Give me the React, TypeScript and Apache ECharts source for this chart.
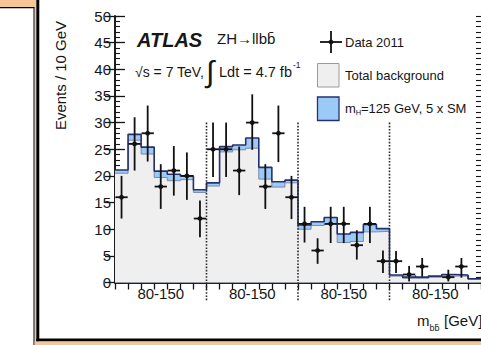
import { useEffect, useRef } from "react";
import * as echarts from "echarts";

// Four m_bb panels, each 80-150 GeV in 10 GeV bins
const panelLabels = ["80-150", "80-150", "80-150", "80-150"];
const binsPerPanel = 7;

// Total background per bin
const background = [
  20.5, 26.7, 24.1, 19.7, 19.1, 19.3, 16.9,
  18.1, 24.5, 24.9, 25.2, 19.4, 17.9, 18.7,
  10.0, 10.7, 10.9, 7.5, 7.7, 9.5, 9.6,
  1.2, 0.8, 0.8, 1.0, 1.2, 1.2, 0.6,
];
// mH = 125 GeV signal scaled by 5 x SM, stacked on the background
const signal = [
  0.6, 1.1, 1.3, 1.2, 1.2, 0.7, 0.5,
  0.6, 1.0, 0.9, 1.9, 2.2, 1.0, 0.5,
  0.8, 0.7, 1.3, 1.6, 1.7, 1.4, 0.5,
  0.2, 0.2, 0.2, 0.2, 0.3, 0.2, 0.1,
];
// Data 2011 with error bar ends
const dataEvents = [
  16, 26, 28, 18, 21, 20, 12,
  25, 25, 21, 30, 18, 28, 16,
  11, 6, 11, 11, 7, 11, 4,
  4, 1.5, 3, null, 1, 3, null,
];
const dataErrLow = [
  12, 21, 22.7, 13.8, 16.3, 15.5, 8.5,
  19.8, 19.8, 16.4, 24.9, 13.8, 22.6, 11.9,
  7.5, 3.5, 7.4, 7.4, 4.3, 7.4, 1.8,
  1.8, 0.2, 1.1, null, 0.2, 0.9, null,
];
const dataErrHigh = [
  20, 31, 33.2, 22.2, 25.6, 24.4, 15.4,
  30, 30, 25.5, 35.3, 22.2, 33.2, 20,
  14.2, 8.3, 14.2, 14.2, 9.8, 14.2, 6,
  5.9, 3.1, 4.6, null, 2.4, 4.6, null,
];
const yTicks = [0, 5, 10, 15, 20, 25, 30, 35, 40, 45, 50];

const FONT = "'Liberation Sans', Arial, Helvetica, sans-serif";
const INK = "#161616";
const NAVY = "#27306e";
const BLUE = "#9ccaf6";
const GREY = "#efefef";
const PEACH = "#f7c596";

export default function App() {
  const ref = useRef<HTMLDivElement>(null);

  useEffect(() => {
    if (!ref.current) return;
    const chart = echarts.init(ref.current, null, { renderer: "svg" });
    const nBins = background.length;
    const total = background.map((b, i) => b + signal[i]);
    const stepData = (vals: number[]) => [
      ...vals.map((v, i) => [i, v]),
      [nBins, vals[nBins - 1]],
    ];
    const binEdges = Array.from({ length: nBins + 1 }, (_, i) => i);
    const panelCenters = panelLabels.map((_, p) => p * binsPerPanel + binsPerPanel / 2);
    const separators = panelLabels.slice(1).map((_, p) => [(p + 1) * binsPerPanel]);
    const points = dataEvents
      .map((v, i) => (v == null ? null : [i + 0.5, v, dataErrLow[i], dataErrHigh[i]]))
      .filter((d) => d != null);

    const xCommon = {
      type: "value",
      min: 0,
      max: nBins,
      interval: 1,
      axisLine: { show: true, lineStyle: { color: INK, width: 1.6 } },
      axisTick: { show: true, inside: true, length: 7, customValues: binEdges, lineStyle: { color: INK, width: 1.3 } },
      splitLine: { show: false },
    };
    const yMajor = {
      type: "value",
      min: 0,
      max: 50,
      interval: 5,
      axisLine: { show: true, lineStyle: { color: INK, width: 1.6 } },
      axisTick: { show: true, inside: true, length: 10, lineStyle: { color: INK, width: 1.3 } },
      splitLine: { show: false },
    };
    // 1-event sub-divisions, drawn as short inner ticks
    const yMinor = {
      type: "value",
      min: 0,
      max: 50,
      interval: 1,
      offset: 0,
      axisLine: { show: false },
      axisTick: { show: true, inside: true, length: 5, lineStyle: { color: INK, width: 1.1 } },
      axisLabel: { show: false },
      splitLine: { show: false },
    };

    const txt = (x: number, y: number, text: string, size: number, extra: any = {}) => ({
      type: "text",
      x,
      y,
      silent: true,
      style: {
        text,
        fill: INK,
        fontStyle: extra.italic ? "italic" : "normal",
        fontWeight: extra.weight || "normal",
        fontSize: size,
        fontFamily: FONT,
        textAlign: extra.align || "left",
        textVerticalAlign: "middle",
        verticalAlign: "middle",
      },
      rotation: extra.rotation || 0,
      z: 50,
    });

    chart.setOption({
      animation: false,
      backgroundColor: "#ffffff",
      textStyle: { fontFamily: FONT },
      grid: { left: 115, right: -3, top: 16, bottom: 62.5, containLabel: false },
      xAxis: [
        {
          ...xCommon,
          position: "bottom",
          axisLabel: {
            show: true,
            customValues: panelCenters,
            formatter: (v: number) => panelLabels[Math.floor(v / binsPerPanel)] || "",
            fontSize: 15,
            color: INK,
            margin: 3,
          },
        },
        { ...xCommon, position: "top", axisLabel: { show: false } },
      ],
      yAxis: [
        {
          ...yMajor,
          position: "left",
          axisLabel: {
            show: true,
            customValues: yTicks,
            fontSize: 15,
            color: INK,
            margin: 4,
            padding: [4, 0, 0, 0],
          },
        },
        { ...yMajor, position: "right", axisLabel: { show: false } },
        { ...yMinor, position: "left" },
        { ...yMinor, position: "right" },
      ],
      series: [
        {
          type: "line",
          step: "end",
          data: stepData(total),
          symbol: "none",
          lineStyle: { width: 0, color: BLUE },
          areaStyle: { color: BLUE, opacity: 1 },
          z: 1,
        },
        {
          type: "line",
          step: "end",
          data: stepData(background),
          symbol: "none",
          lineStyle: { width: 1, color: "#7d88a8" },
          areaStyle: { color: GREY, opacity: 1 },
          z: 2,
        },
        {
          type: "line",
          step: "end",
          data: stepData(total),
          symbol: "none",
          lineStyle: { width: 1.6, color: NAVY },
          z: 3,
        },
        {
          type: "custom",
          clip: false,
          data: separators,
          encode: { x: 0 },
          renderItem: (_p: any, api: any) => {
            const x = api.value(0);
            const a = api.coord([x, 30]);
            const b = api.coord([x, -3.5]);
            return {
              type: "line",
              shape: { x1: a[0], y1: a[1], x2: b[0], y2: b[1] },
              style: { stroke: "#2a2a2a", lineWidth: 1.6, lineDash: [1.6, 1.6] },
            };
          },
          z: 4,
        },
        {
          type: "custom",
          clip: false,
          data: points,
          encode: { x: 0, y: 1 },
          renderItem: (_p: any, api: any) => {
            const x = api.value(0);
            const v = api.value(1);
            const lo = api.coord([x, api.value(2)]);
            const hi = api.coord([x, api.value(3)]);
            const l = api.coord([x - 0.47, v]);
            const r = api.coord([x + 0.47, v]);
            const c = api.coord([x, v]);
            const st = { stroke: "#111", lineWidth: 1.8 };
            return {
              type: "group",
              children: [
                { type: "line", shape: { x1: lo[0], y1: lo[1], x2: hi[0], y2: hi[1] }, style: st },
                { type: "line", shape: { x1: l[0], y1: l[1], x2: r[0], y2: r[1] }, style: st },
                { type: "circle", shape: { cx: c[0], cy: c[1], r: 2.4 }, style: { fill: "#111" } },
              ],
            };
          },
          z: 10,
        },
      ],
      graphic: [
        // slide frame
        { type: "rect", shape: { x: 0, y: 0, width: 36, height: 7 }, style: { fill: PEACH }, silent: true },
        { type: "rect", shape: { x: 0, y: 7, width: 34.5, height: 1.2 }, style: { fill: "#000" }, silent: true },
        { type: "rect", shape: { x: 33.5, y: 7, width: 1.2, height: 338 }, style: { fill: "#000" }, silent: true },
        { type: "rect", shape: { x: 34.7, y: 0, width: 1.6, height: 345 }, style: { fill: PEACH }, silent: true },
        { type: "rect", shape: { x: 36.3, y: 0, width: 3, height: 341.5 }, style: { fill: "#000" }, silent: true },
        { type: "rect", shape: { x: 36.3, y: 338.5, width: 445, height: 3 }, style: { fill: "#000" }, silent: true },
        { type: "rect", shape: { x: 34.7, y: 341.5, width: 447, height: 3.5 }, style: { fill: PEACH }, silent: true },

        // axis titles
        txt(60.5, 75.5, "Events / 10 GeV", 15, { align: "center", rotation: Math.PI / 2 }),
        txt(417, 320, "m", 15),
        txt(429.5, 328, "bb\u0304", 9),
        txt(444, 320, "[GeV]", 15),

        // labels
        txt(137, 39.5, "ATLAS", 20, { weight: "bold", italic: true }),
        txt(217, 38.5, "ZH\u2192llbb\u0304", 15),
        txt(135, 71.5, "\u221As = 7 TeV,", 14),
        txt(206, 71, "\u222B", 30),
        txt(219, 71.5, "Ldt = 4.7 fb", 14.5),
        txt(293, 65, "-1", 8.5),

        // legend
        { type: "line", shape: { x1: 320, y1: 42, x2: 342, y2: 42 }, style: { stroke: "#111", lineWidth: 1.8 }, silent: true },
        { type: "line", shape: { x1: 331, y1: 31, x2: 331, y2: 53 }, style: { stroke: "#111", lineWidth: 1.8 }, silent: true },
        { type: "circle", shape: { cx: 331, cy: 42, r: 2.4 }, style: { fill: "#111" }, silent: true },
        txt(345, 42, "Data 2011", 13),
        { type: "rect", shape: { x: 317.5, y: 63.5, width: 21.5, height: 23.5 }, style: { fill: GREY, stroke: "#9a9a9a", lineWidth: 1 }, silent: true },
        txt(345, 75, "Total background", 13),
        { type: "rect", shape: { x: 317.5, y: 97, width: 21.5, height: 23.5 }, style: { fill: BLUE, stroke: NAVY, lineWidth: 1.3 }, silent: true },
        txt(345, 108, "m", 13),
        txt(355.8, 112, "H", 7.5),
        txt(361, 108, "=125 GeV, 5 x SM", 13),
      ],
    });

    return () => chart.dispose();
  }, []);

  return (
    <div
      ref={ref}
      style={{ position: "fixed", left: 0, top: 0, width: 481, height: 345, background: "#fff" }}
    />
  );
}
